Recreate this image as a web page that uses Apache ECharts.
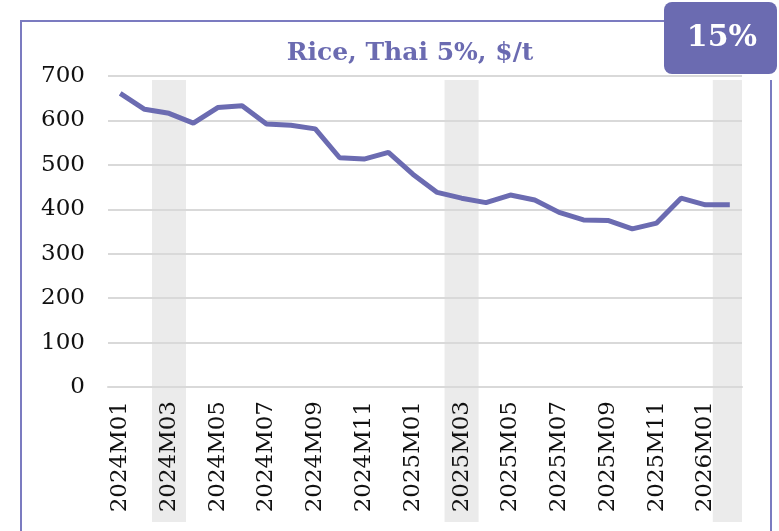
<!DOCTYPE html>
<html>
<head>
<meta charset="utf-8">
<script src="https://cdn.jsdelivr.net/npm/echarts@6/dist/echarts.min.js"></script>
<style>
  html, body { margin: 0; padding: 0; background: #fff; }
  #chart { width: 779px; height: 531px; }
</style>
</head>
<body>
<div id="chart"></div>
<script>
const months = [
  '2024M01', '2024M02', '2024M03', '2024M04', '2024M05', '2024M06',
  '2024M07', '2024M08', '2024M09', '2024M10', '2024M11', '2024M12',
  '2025M01', '2025M02', '2025M03', '2025M04', '2025M05', '2025M06',
  '2025M07', '2025M08', '2025M09', '2025M10', '2025M11', '2025M12',
  '2026M01', '2026M02'
];
const ricePrice = [
  661, 625, 616, 594, 629, 633, 592, 589, 581, 516, 513, 528,
  479, 438, 425, 415, 432, 421, 393, 376, 375, 356, 369, 425,
  410, 410
];
const bandMonths = ['2024M03', '2025M03', '2026M02'];
const yTicks = [0, 100, 200, 300, 400, 500, 600, 700];
const titleText = 'Rice, Thai 5%, $/t';
const badgeText = '15%';

const purple = '#6b6bb1';
const serif = '"DejaVu Serif", "Liberation Serif", serif';

const chart = echarts.init(document.getElementById('chart'));

const bandData = months.map(m => (bandMonths.includes(m) ? 1 : '-'));

const option = {
  animation: false,
  title: {
    text: titleText,
    left: 405,
    textAlign: 'center',
    top: 36,
    textStyle: { fontFamily: serif, fontSize: 25, fontWeight: 'bold', color: purple }
  },
  grid: [
    { left: 108, right: 37, top: 76, bottom: 144 },
    { left: 108, right: 37, top: 80, bottom: 9 }
  ],
  xAxis: [
    {
      type: 'category',
      data: months,
      gridIndex: 0,
      axisTick: { show: false },
      axisLine: { lineStyle: { color: '#d9d9d9', width: 2 } },
      axisLabel: {
        interval: 1,
        rotate: 90,
        margin: 14,
        fontFamily: serif,
        fontSize: 23,
        color: '#111'
      }
    },
    {
      type: 'category',
      data: months,
      gridIndex: 1,
      show: false
    }
  ],
  yAxis: [
    {
      type: 'value',
      gridIndex: 0,
      min: yTicks[0],
      max: yTicks[yTicks.length - 1],
      interval: 100,
      axisLine: { show: false },
      axisTick: { show: false },
      splitLine: { lineStyle: { color: '#d9d9d9', width: 2 } },
      axisLabel: { margin: 23, fontFamily: serif, fontSize: 23, color: '#111' }
    },
    { type: 'value', gridIndex: 1, min: 0, max: 1, show: false }
  ],
  series: [
    {
      type: 'bar',
      xAxisIndex: 1,
      yAxisIndex: 1,
      data: bandData,
      barWidth: 34,
      itemStyle: { color: '#ebebeb' },
      z: -1,
      silent: true
    },
    {
      type: 'line',
      data: ricePrice,
      symbol: 'none',
      lineStyle: { color: purple, width: 5 },
      z: 3
    }
  ],
  graphic: [
    {
      type: 'polyline',
      shape: { points: [[665, 21], [21, 21], [21, 531]] },
      style: { stroke: '#7b7bc0', lineWidth: 2, fill: null }
    },
    {
      type: 'line',
      shape: { x1: 771, y1: 80, x2: 771, y2: 531 },
      style: { stroke: '#7b7bc0', lineWidth: 2 }
    },
    {
      type: 'rect',
      shape: { x: 664, y: 2, width: 113, height: 72, r: 8 },
      style: { fill: purple }
    },
    {
      type: 'text',
      x: 722,
      y: 38,
      style: {
        text: badgeText,
        fill: '#fff',
        font: 'bold 30px ' + serif,
        textAlign: 'center',
        textVerticalAlign: 'middle'
      }
    }
  ]
};

chart.setOption(option);
window.addEventListener('resize', () => chart.resize());
</script>
</body>
</html>
